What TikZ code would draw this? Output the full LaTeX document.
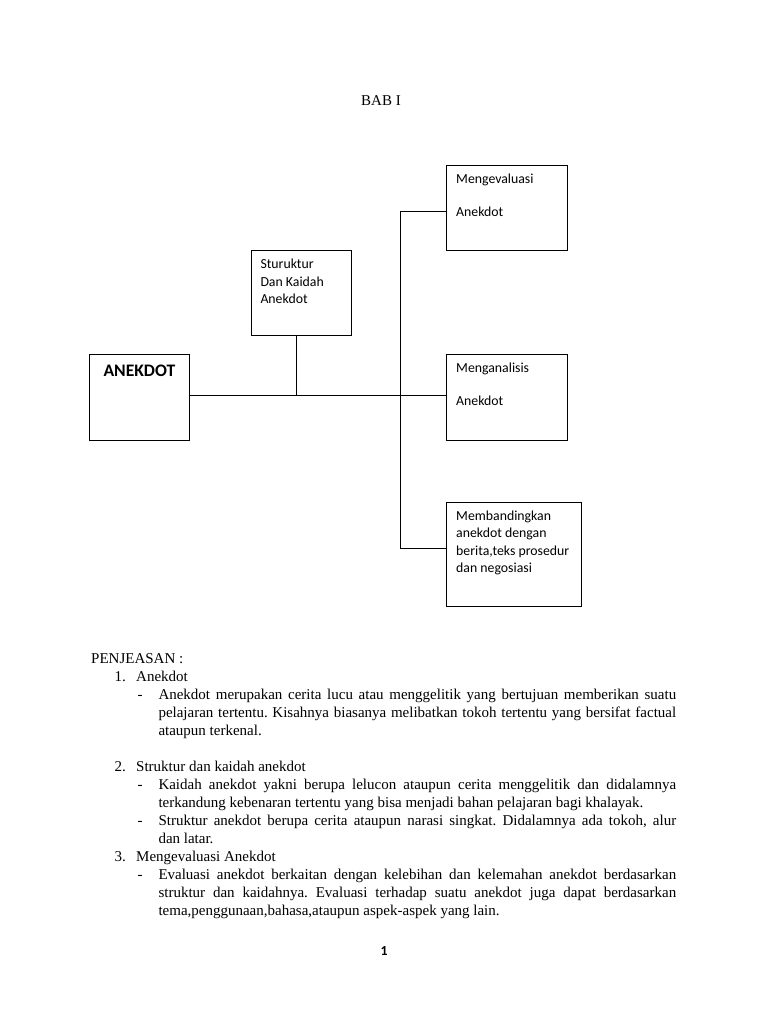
\documentclass[tikz,border=0pt]{standalone}
\usepackage{fontspec}
\setmainfont{Liberation Serif}
\newfontfamily\calib{Carlito}
\newcommand{\jline}[1]{\makebox[517.7pt][s]{#1}}
\frenchspacing
\begin{document}
\begin{tikzpicture}[x=1pt,y=-1pt,
  box/.style={draw,line width=0.9pt,inner sep=0pt,anchor=north west},
  btxt/.style={anchor=base west,inner sep=0pt,font=\calib\fontsize{13.8}{17.7}\selectfont},
  body/.style={anchor=base west,inner sep=0pt,font=\fontsize{15}{18}\selectfont},
  conn/.style={line width=0.9pt}]
\useasboundingbox[fill=white] (0,0) rectangle (768,1024);

% title
\node[body,anchor=base] (title) at (381,106) {BAB I};

% boxes
\node[box,minimum width=100pt,minimum height=86pt] (anek) at (89.3,354) {};
\node[box,minimum width=99.4pt,minimum height=85pt] (stru) at (251.3,250.3) {};
\node[box,minimum width=121.3pt,minimum height=85.6pt] (meng) at (446,164.7) {};
\node[box,minimum width=121.3pt,minimum height=86pt] (mang) at (446,354) {};
\node[box,minimum width=134.7pt,minimum height=104.3pt] (memb) at (446,501.7) {};

% box texts
\node[anchor=base west,inner sep=0pt,font=\calib\bfseries\fontsize{17.6}{21}\selectfont] (anekT) at (103.3,376) {ANEKDOT};
\node[btxt] (struT1) at (260.3,268.3) {Sturuktur};
\node[btxt] (struT2) at (260.3,286) {Dan Kaidah};
\node[btxt] (struT3) at (260.3,303.7) {Anekdot};
\node[btxt] (mengT1) at (456,184) {Mengevaluasi};
\node[btxt] (mengT2) at (456,217) {Anekdot};
\node[btxt] (mangT1) at (456,372) {Menganalisis};
\node[btxt] (mangT2) at (456,405) {Anekdot};
\node[btxt] (membT1) at (456,520) {Membandingkan};
\node[btxt] (membT2) at (456,537.5) {anekdot dengan};
\node[btxt] (membT3) at (456,555) {berita,teks prosedur};
\node[btxt] (membT4) at (456,572.5) {dan negosiasi};

% connectors
\coordinate (hub) at (296.7,395.3);
\coordinate (t1) at (400,211.3);
\coordinate (t2) at (400,548.3);
\draw[conn] (anek.east |- hub) -- (mang.west |- hub);
\draw[conn] (stru.south -| hub) -- (hub);
\draw[conn] (meng.west |- t1) -- (t1) -- (t2) -- (memb.west |- t2);

% explanation text
\node[body] (pj) at (91,663) {PENJEASAN :};
\node[body] (n1) at (114.3,681) {1.};
\node[body] (h1) at (136,681) {Anekdot};
\node[body] (d1) at (137.3,699) {-};
\node[body] (p1a) at (158.3,699) {\jline{Anekdot merupakan cerita lucu atau menggelitik yang bertujuan memberikan suatu}};
\node[body] (p1b) at (158.3,717) {\jline{pelajaran tertentu. Kisahnya biasanya melibatkan tokoh tertentu yang bersifat factual}};
\node[body] (p1c) at (158.3,735) {ataupun terkenal.};

\node[body] (n2) at (114.3,771) {2.};
\node[body] (h2) at (136,771) {Struktur dan kaidah anekdot};
\node[body] (d2) at (137.3,789) {-};
\node[body] (p2a) at (158.3,789) {\jline{Kaidah anekdot yakni berupa lelucon ataupun cerita menggelitik dan didalamnya}};
\node[body] (p2b) at (158.3,807) {terkandung kebenaran tertentu yang bisa menjadi bahan pelajaran bagi khalayak.};
\node[body] (d3) at (137.3,825) {-};
\node[body] (p3a) at (158.3,825) {\jline{Struktur anekdot berupa cerita ataupun narasi singkat. Didalamnya ada tokoh, alur}};
\node[body] (p3b) at (158.3,843) {dan latar.};

\node[body] (n3) at (114.3,861) {3.};
\node[body] (h3) at (136,861) {Mengevaluasi Anekdot};
\node[body] (d4) at (137.3,879) {-};
\node[body] (p4a) at (158.3,879) {\jline{Evaluasi anekdot berkaitan dengan kelebihan dan kelemahan anekdot berdasarkan}};
\node[body] (p4b) at (158.3,897) {\jline{struktur dan kaidahnya. Evaluasi terhadap suatu anekdot juga dapat berdasarkan}};
\node[body] (p4c) at (158.3,915) {tema,penggunaan,bahasa,ataupun aspek-aspek yang lain.};

% page number
\node[anchor=base,inner sep=0pt,font=\calib\bfseries\fontsize{13.8}{16}\selectfont] (pg) at (384,955.7) {1};
\end{tikzpicture}
\end{document}
